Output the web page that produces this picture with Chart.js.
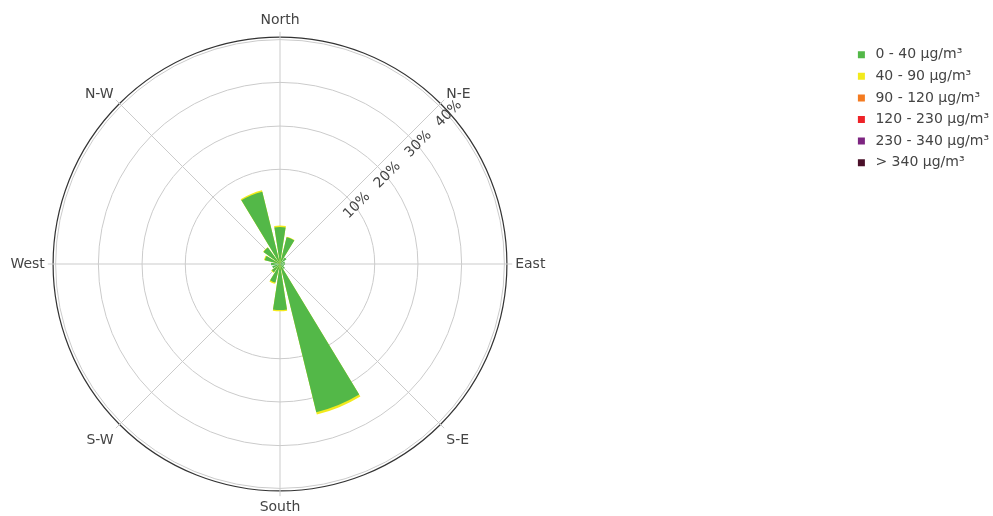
<!DOCTYPE html>
<html>
<head>
<meta charset="utf-8">
<script src="https://cdn.jsdelivr.net/npm/chart.js@4/dist/chart.umd.min.js"></script>
<style>
  html, body { margin: 0; padding: 0; background: #fff; }
  #wrap { width: 993px; height: 516px; position: relative; }
</style>
</head>
<body>
<div id="wrap"><canvas id="rose"></canvas></div>
<script>
// 16 wind sectors, clockwise from North
const directions = ['N', 'NNE', 'NE', 'ENE', 'E', 'ESE', 'SE', 'SSE', 'S', 'SSW', 'SW', 'WSW', 'W', 'WNW', 'NW', 'NNW'];
const compassLabels = ['North', 'N-E', 'East', 'S-E', 'South', 'S-W', 'West', 'N-W'];

const binLabels = ['0 - 40 µg/m³', '40 - 90 µg/m³', '90 - 120 µg/m³', '120 - 230 µg/m³', '230 - 340 µg/m³', '> 340 µg/m³'];
const binColors = ['#53b848', '#f2ea1c', '#f47b20', '#ee2328', '#7d2581', '#4a1029'];

// frequency (%) of each concentration bin per sector
const bin0_40   = [8.05, 6.0, 1.75, 1.1, 1.1, 0.9, 1.3, 33.2, 10.0, 4.15, 2.2, 1.75, 1.95, 3.4, 4.45, 16.2];
const bin40_90  = [0.33, 0.1, 0, 0, 0, 0, 0, 0.5, 0.3, 0.3, 0.2, 0, 0, 0.2, 0.1, 0.3];
const bin90_120 = [0, 0, 0, 0, 0, 0, 0, 0, 0, 0, 0, 0, 0, 0, 0, 0];
const bin120_230 = [0, 0, 0, 0, 0, 0, 0, 0, 0, 0, 0, 0, 0, 0, 0, 0];
const bin230_340 = [0, 0, 0, 0, 0, 0, 0, 0, 0, 0, 0, 0, 0, 0, 0, 0];
const bin340 = [0, 0, 0, 0, 0, 0, 0, 0, 0, 0, 0, 0, 0, 0, 0, 0];

// radial rings as printed on the source (positions / texts)
const ringValues = [20.6, 30.0, 39.5, 48.8];
const ringLabels = ['10%', '20%', '30%', '40%'];
const frameValue = 49.35;
const rMax = 50.5;

const textColor = '#444';
const gridColor = '#cbcbcb';
const barAngle = 17.5;
const gapAngle = 5;

Chart.defaults.font.family = '"DejaVu Sans", sans-serif';
Chart.defaults.font.size = 14;
Chart.defaults.color = textColor;

// bars are separated by empty slices, so each sector gives [bar, gap]
const spread = (values) => {
	const out = [0];
	values.forEach(v => out.push(v, 0));
	return out;
};
const sliceAngle = (i) => (i === 0 || i === directions.length * 2) ? gapAngle / 2 : (i % 2 ? barAngle : gapAngle);

// 32 angular label slots so the spokes fall on the 8 compass points
const slotLabels = [];
for (let i = 0; i < 32; i++) {
	slotLabels.push(i % 4 === 1 ? compassLabels[(i - 1) / 4] : '');
}

// stacked bins: each dataset holds the running total, drawn under the previous one
const bins = [bin0_40, bin40_90, bin90_120, bin120_230, bin230_340, bin340];
const running = directions.map(() => 0);
const datasets = bins.map((bin, k) => {
	const cum = bin.map((v, d) => {
		running[d] += v;
		return v > 0 ? running[d] : 0;
	});
	return {
		label: binLabels[k],
		data: spread(cum),
		backgroundColor: binColors[k],
		borderWidth: 0,
		angle: (c) => sliceAngle(c.dataIndex),
	};
});

// empty boxes between the rose and the legend
const makeGap = (w) => ({
	position: 'right',
	weight: 0,
	fullSize: false,
	options: {},
	left: 0, top: 0, right: 0, bottom: 0, width: 0, height: 0,
	update(maxWidth, maxHeight) {
		this.width = Math.min(w, maxWidth);
		this.height = maxHeight;
	},
	isHorizontal() { return false; },
	draw() {}
});
const legendGap = {
	id: 'legendGap',
	start(chart) {
		Chart.layouts.addBox(chart, makeGap(145));
		Chart.layouts.addBox(chart, makeGap(145));
	}
};

const ringText = {
	id: 'ringText',
	afterDraw(chart) {
		const scale = chart.scales.r;
		const ctx = chart.ctx;
		const a = Math.PI / 4;
		ctx.save();
		ctx.font = '14px "DejaVu Sans", sans-serif';
		ctx.fillStyle = textColor;
		ctx.textAlign = 'center';
		ctx.textBaseline = 'middle';
		ringValues.forEach((v, i) => {
			const r = scale.getDistanceFromCenterForValue(v) + 1;
			const x = scale.xCenter + r * Math.sin(a) + 13 * Math.cos(a);
			const y = scale.yCenter - r * Math.cos(a) + 13 * Math.sin(a);
			ctx.save();
			ctx.translate(x, y);
			ctx.rotate(-a);
			ctx.fillText(ringLabels[i], 0, 0);
			ctx.restore();
		});
		ctx.restore();
	}
};

new Chart(document.getElementById('rose'), {
	type: 'polarArea',
	data: { labels: slotLabels, datasets },
	options: {
		responsive: true,
		maintainAspectRatio: false,
		animation: false,
		layout: { padding: { top: 12, right: -6, left: 0, bottom: 0 } },
		scales: {
			r: {
				min: 0,
				max: rMax,
				startAngle: -11.25,
				afterBuildTicks: (scale) => {
					scale.ticks = [0, ...ringValues, frameValue].map(v => ({ value: v }));
				},
				ticks: { display: false },
				grid: {
					circular: true,
					color: (c) => c.tick && c.tick.value === frameValue ? '#333' : gridColor,
					lineWidth: (c) => c.tick && c.tick.value === frameValue ? 1.2 : 1,
				},
				angleLines: {
					display: true,
					color: gridColor,
					lineWidth: (c) => c.index % 4 === 1 ? 1 : 0,
				},
				pointLabels: {
					display: true,
					padding: 3,
					color: textColor,
					// diagonal labels sit a little lower in the source
					font: (c) => {
						const i = c.index;
						if (i === 5 || i === 29) return { size: 14, lineHeight: 0.53 };
						if (i === 13 || i === 21) return { size: 14, lineHeight: 1.39 };
						return { size: 14 };
					},
				},
			}
		},
		plugins: {
			tooltip: { enabled: false },
			legend: {
				position: 'right',
				align: 'start',
				title: { display: true, text: '', padding: { top: 11.3, bottom: 0 } },
				labels: {
					usePointStyle: true,
					boxWidth: 14,
					boxHeight: 7,
					padding: 7.6,
					color: textColor,
					font: { size: 14 },
					generateLabels: (chart) => chart.data.datasets.map((ds, i) => ({
						text: ds.label,
						fillStyle: ds.backgroundColor,
						strokeStyle: ds.backgroundColor,
						lineWidth: 0,
						pointStyle: 'rect',
						hidden: false,
						datasetIndex: i,
						fontColor: textColor,
					})),
				},
			},
		},
	},
	plugins: [legendGap, ringText],
});
</script>
</body>
</html>
